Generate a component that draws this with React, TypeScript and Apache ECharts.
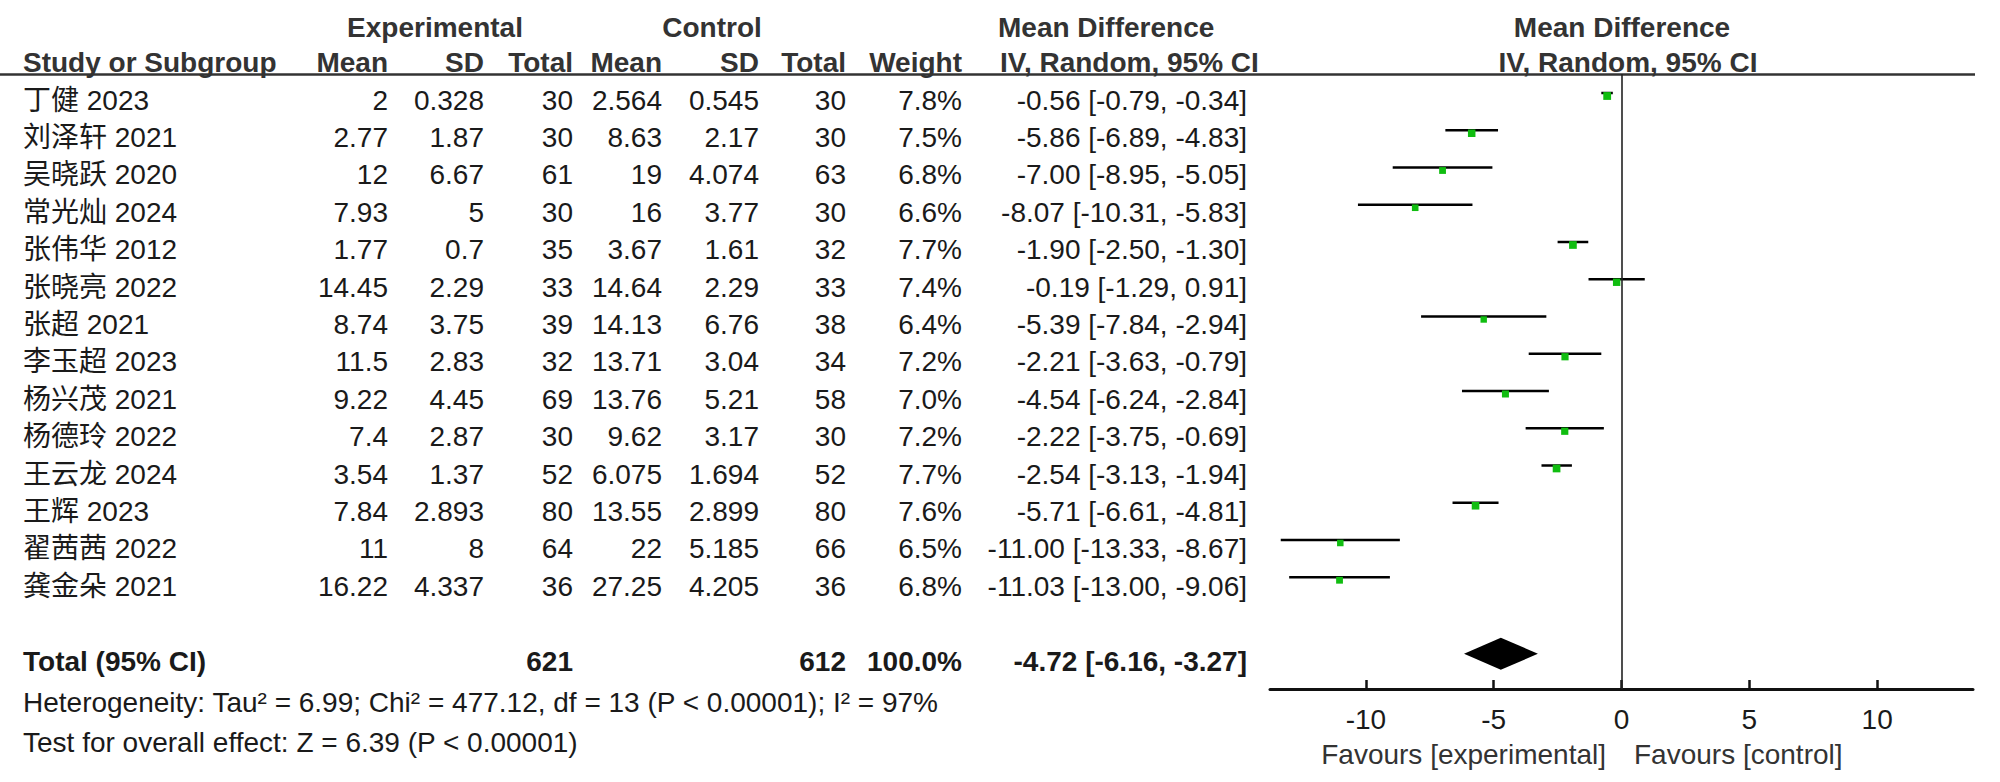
import React, { useEffect, useRef } from "react";
import * as echarts from "echarts";

// ---------- data ----------
const studies = ["丁健 2023", "刘泽轩 2021", "吴晓跃 2020", "常光灿 2024", "张伟华 2012", "张晓亮 2022", "张超 2021", "李玉超 2023", "杨兴茂 2021", "杨德玲 2022", "王云龙 2024", "王辉 2023", "翟茜茜 2022", "龚金朵 2021"];
const expMean = [2, 2.77, 12, 7.93, 1.77, 14.45, 8.74, 11.5, 9.22, 7.4, 3.54, 7.84, 11, 16.22];
const expSD = [0.328, 1.87, 6.67, 5, 0.7, 2.29, 3.75, 2.83, 4.45, 2.87, 1.37, 2.893, 8, 4.337];
const expN = [30, 30, 61, 30, 35, 33, 39, 32, 69, 30, 52, 80, 64, 36];
const ctlMean = [2.564, 8.63, 19, 16, 3.67, 14.64, 14.13, 13.71, 13.76, 9.62, 6.075, 13.55, 22, 27.25];
const ctlSD = [0.545, 2.17, 4.074, 3.77, 1.61, 2.29, 6.76, 3.04, 5.21, 3.17, 1.694, 2.899, 5.185, 4.205];
const ctlN = [30, 30, 63, 30, 32, 33, 38, 34, 58, 30, 52, 80, 66, 36];
const weight = [7.8, 7.5, 6.8, 6.6, 7.7, 7.4, 6.4, 7.2, 7.0, 7.2, 7.7, 7.6, 6.5, 6.8];
const md = [-0.56, -5.86, -7.0, -8.07, -1.9, -0.19, -5.39, -2.21, -4.54, -2.22, -2.54, -5.71, -11.0, -11.03];
const ciLo = [-0.79, -6.89, -8.95, -10.31, -2.5, -1.29, -7.84, -3.63, -6.24, -3.75, -3.13, -6.61, -13.33, -13.0];
const ciHi = [-0.34, -4.83, -5.05, -5.83, -1.3, 0.91, -2.94, -0.79, -2.84, -0.69, -1.94, -4.81, -8.67, -9.06];

const totalExpN = 621;
const totalCtlN = 612;
const totalWeight = 100.0;
const totalMD = -4.72;
const totalLo = -6.16;
const totalHi = -3.27;
const TOTAL_ROW = 15;

const heterogeneityText = "Heterogeneity: Tau² = 6.99; Chi² = 477.12, df = 13 (P < 0.00001); I² = 97%";
const overallText = "Test for overall effect: Z = 6.39 (P < 0.00001)";
const xTicks = [-10, -5, 0, 5, 10];
const favoursLeft = "Favours [experimental]";
const favoursRight = "Favours [control]";

// ---------- layout ----------
const FONT = "'Liberation Sans', Arial, 'Noto Sans CJK SC', sans-serif";
const FS = 28;
const TXT = "#1a1a1a";
const HDR = "#333333";
const GREEN = "#10bd10";

const COL = { name: 23, expMean: 388, expSD: 484, expN: 573, ctlMean: 662, ctlSD: 759, ctlN: 846, weight: 962, ci: 1247 };
const rowY = (i: number) => 100 + 37.4 * i;

const fmt2 = (v: number) => v.toFixed(2);
const ciText = (m: number, l: number, h: number) => `${fmt2(m)} [${fmt2(l)}, ${fmt2(h)}]`;

function txt(text: string, x: number, y: number, align: string, bold = false, color = TXT) {
  return {
    type: "text",
    x,
    y,
    silent: true,
    style: {
      text,
      fill: color,
      fontSize: FS,
      fontFamily: FONT,
      fontWeight: bold ? "bold" : "normal",
      align,
      textAlign: align,
      verticalAlign: "middle",
      textVerticalAlign: "middle",
    },
  };
}

export default function App() {
  const ref = useRef<HTMLDivElement>(null);

  useEffect(() => {
    if (!ref.current) return;
    const chart = echarts.init(ref.current, undefined, { renderer: "svg" });

    const g: any[] = [];
    // headers
    g.push(txt("Experimental", 435, 27, "center", true, HDR));
    g.push(txt("Control", 712, 27, "center", true, HDR));
    g.push(txt("Mean Difference", 998, 27, "left", true, HDR));
    g.push(txt("Mean Difference", 1622, 27, "center", true, HDR));
    g.push(txt("Study or Subgroup", COL.name, 62, "left", true, HDR));
    g.push(txt("Mean", COL.expMean, 62, "right", true, HDR));
    g.push(txt("SD", COL.expSD, 62, "right", true, HDR));
    g.push(txt("Total", COL.expN, 62, "right", true, HDR));
    g.push(txt("Mean", COL.ctlMean, 62, "right", true, HDR));
    g.push(txt("SD", COL.ctlSD, 62, "right", true, HDR));
    g.push(txt("Total", COL.ctlN, 62, "right", true, HDR));
    g.push(txt("Weight", COL.weight, 62, "right", true, HDR));
    g.push(txt("IV, Random, 95% CI", 1000, 62, "left", true, HDR));
    g.push(txt("IV, Random, 95% CI", 1628, 62, "center", true, HDR));
    g.push({
      type: "line",
      silent: true,
      shape: { x1: 0, y1: 74.5, x2: 1975, y2: 74.5 },
      style: { stroke: HDR, lineWidth: 2.5 },
    });

    // study rows
    studies.forEach((s, i) => {
      const y = rowY(i);
      g.push(txt(s, COL.name, y, "left"));
      g.push(txt(String(expMean[i]), COL.expMean, y, "right"));
      g.push(txt(String(expSD[i]), COL.expSD, y, "right"));
      g.push(txt(String(expN[i]), COL.expN, y, "right"));
      g.push(txt(String(ctlMean[i]), COL.ctlMean, y, "right"));
      g.push(txt(String(ctlSD[i]), COL.ctlSD, y, "right"));
      g.push(txt(String(ctlN[i]), COL.ctlN, y, "right"));
      g.push(txt(weight[i].toFixed(1) + "%", COL.weight, y, "right"));
      g.push(txt(ciText(md[i], ciLo[i], ciHi[i]), COL.ci, y, "right"));
    });

    // total row
    const ty = rowY(TOTAL_ROW);
    g.push(txt("Total (95% CI)", COL.name, ty, "left", true));
    g.push(txt(String(totalExpN), COL.expN, ty, "right", true));
    g.push(txt(String(totalCtlN), COL.ctlN, ty, "right", true));
    g.push(txt(totalWeight.toFixed(1) + "%", COL.weight, ty, "right", true));
    g.push(txt(ciText(totalMD, totalLo, totalHi), COL.ci, ty, "right", true));

    g.push(txt(heterogeneityText, COL.name, 702, "left"));
    g.push(txt(overallText, COL.name, 742, "left"));

    g.push(txt(favoursLeft, 1606, 754, "right", false, HDR));
    g.push(txt(favoursRight, 1634, 754, "left", false, HDR));

    const studyData = studies.map((_, i) => [md[i], i, ciLo[i], ciHi[i], weight[i]]);

    const option: any = {
      animation: false,
      backgroundColor: "#ffffff",
      grid: { left: 1270, right: 27, top: 74, bottom: 93, containLabel: false },
      xAxis: {
        type: "value",
        min: -13.75,
        max: 13.75,
        position: "bottom",
        splitLine: { show: false },
        axisLine: { show: true, onZero: false, lineStyle: { color: "#111", width: 3 } },
        axisTick: { show: true, inside: true, length: 9, customValues: xTicks, lineStyle: { color: "#111", width: 2.5 } },
        axisLabel: { customValues: xTicks, fontSize: FS, fontFamily: FONT, color: TXT, margin: 16 },
      },
      yAxis: {
        type: "value",
        inverse: true,
        min: (74 - 95) / 37.25,
        max: (689 - 95) / 37.25,
        show: false,
      },
      graphic: { elements: g },
      series: [
        {
          type: "custom",
          silent: true,
          data: studyData,
          encode: { x: [0, 2, 3], y: 1 },
          renderItem: (params: any, api: any) => {
            const row = api.value(1);
            const pm = api.coord([api.value(0), row]);
            const pl = api.coord([api.value(2), row]);
            const ph = api.coord([api.value(3), row]);
            const size = api.value(4) * 1.0;
            const y = pm[1];
            return {
              type: "group",
              children: [
                { type: "line", shape: { x1: pl[0], y1: y - 2, x2: ph[0], y2: y - 2 }, style: { stroke: "#000", lineWidth: 2.5 } },
                { type: "rect", shape: { x: pm[0] - size / 2, y: y - size / 2 + 1, width: size, height: size }, style: { fill: GREEN } },
              ],
            };
          },
          markLine: {
            silent: true,
            symbol: "none",
            label: { show: false },
            lineStyle: { color: "#222", width: 1.6, type: "solid" },
            data: [{ xAxis: 0 }],
          },
        },
        {
          type: "custom",
          silent: true,
          data: [[totalMD, TOTAL_ROW, totalLo, totalHi]],
          encode: { x: [0, 2, 3], y: 1 },
          renderItem: (params: any, api: any) => {
            const row = api.value(1);
            const pm = api.coord([api.value(0), row]);
            const pl = api.coord([api.value(2), row]);
            const ph = api.coord([api.value(3), row]);
            const h = 16;
            return {
              type: "polygon",
              shape: { points: [[pl[0], pm[1]], [pm[0], pm[1] - h], [ph[0], pm[1]], [pm[0], pm[1] + h]] },
              style: { fill: "#000" },
            };
          },
        },
      ],
    };

    chart.setOption(option);
    return () => chart.dispose();
  }, []);

  return (
    <div
      ref={ref}
      style={{ position: "absolute", left: 0, top: 0, width: 2000, height: 782, background: "#fff" }}
    />
  );
}
